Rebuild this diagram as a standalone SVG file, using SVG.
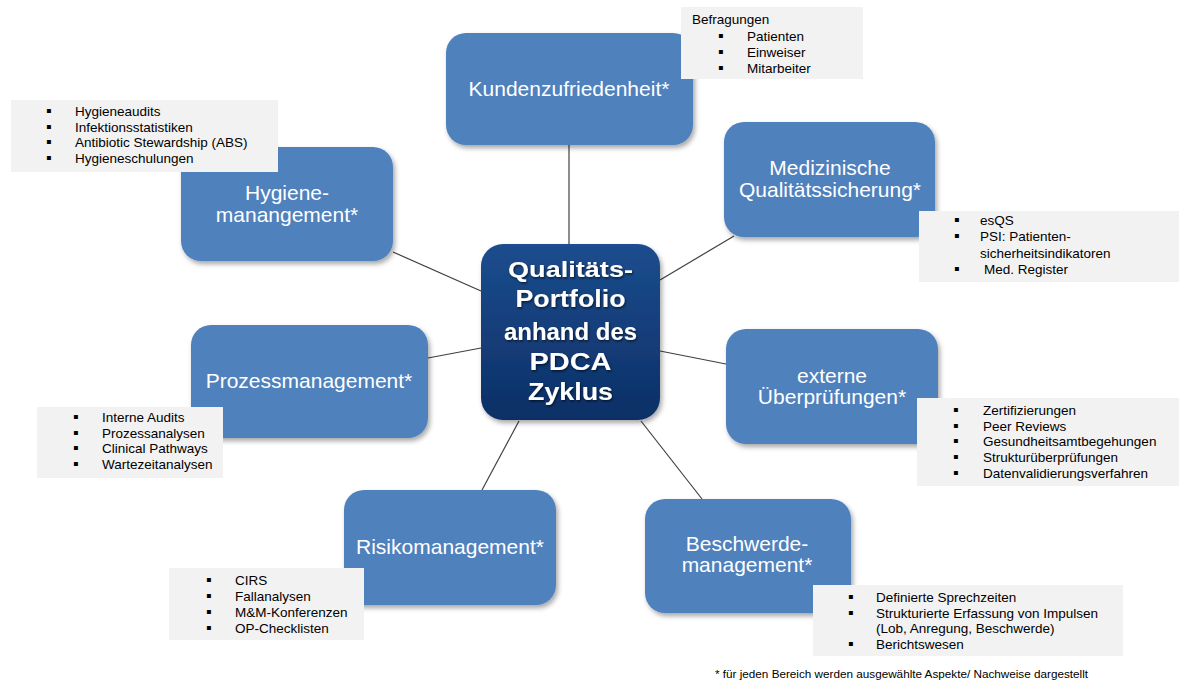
<svg xmlns="http://www.w3.org/2000/svg" width="1179" height="684" viewBox="0 0 1179 684">
<style>
.box{fill:#4f81bd;filter:url(#sh)}
.lbl{font-family:"Liberation Sans",Arial,sans-serif;font-size:21px;fill:#ffffff;text-anchor:middle}
.note{fill:#f2f2f2}
.nt{font-family:"Liberation Sans",Arial,sans-serif;font-size:13.5px;fill:#000000}
.bul{font-family:"Liberation Sans","DejaVu Sans",sans-serif;font-size:16px;fill:#000000}
.ctr{font-family:"Liberation Sans",Arial,sans-serif;font-weight:bold;fill:#ffffff;text-anchor:middle;filter:url(#tsh)}
.con{stroke:#404040;stroke-width:1.2;fill:none}
.foot{font-family:"Liberation Sans",Arial,sans-serif;font-size:11px;fill:#000000}
</style>
<defs>
<linearGradient id="cg" x1="0" y1="0" x2="0" y2="1">
<stop offset="0" stop-color="#1c4d8e"/>
<stop offset="1" stop-color="#0c2f66"/>
</linearGradient>
<filter id="sh" x="-10%" y="-10%" width="125%" height="130%">
<feDropShadow dx="2" dy="3" stdDeviation="2.5" flood-color="#000" flood-opacity="0.35"/>
</filter>
<filter id="tsh" x="-10%" y="-20%" width="120%" height="150%">
<feDropShadow dx="1" dy="1.5" stdDeviation="0.8" flood-color="#000" flood-opacity="0.6"/>
</filter>
</defs>
<rect width="1179" height="684" fill="#ffffff"/>

<g id="connectors">
<line class="con" x1="569" y1="145" x2="569" y2="244"/>
<line class="con" x1="660" y1="280" x2="734" y2="236"/>
<line class="con" x1="660" y1="351" x2="726" y2="364"/>
<line class="con" x1="641" y1="421" x2="702" y2="499"/>
<line class="con" x1="519" y1="421" x2="482" y2="490"/>
<line class="con" x1="481" y1="348" x2="428" y2="358"/>
<line class="con" x1="481" y1="291" x2="393" y2="252"/>
</g>

<g id="kunden">
<rect class="box" x="446" y="33" width="247" height="112" rx="20"/>
<text class="lbl" x="569" y="96">Kundenzufriedenheit*</text>
</g>
<g id="kunden-note">
<rect class="note" x="681" y="7" width="182" height="72"/>
<text class="nt" x="692" y="24">Befragungen</text>
<text class="bul" x="718" y="40.5">▪</text><text class="nt" x="747" y="40.5">Patienten</text>
<text class="bul" x="718" y="56.5">▪</text><text class="nt" x="747" y="56.5">Einweiser</text>
<text class="bul" x="718" y="72.5">▪</text><text class="nt" x="747" y="72.5">Mitarbeiter</text>
</g>

<g id="hygiene">
<rect class="box" x="181" y="147" width="212" height="114" rx="20"/>
<text class="lbl" x="287" y="200">Hygiene-</text>
<text class="lbl" x="287" y="222">manangement*</text>
</g>
<g id="hygiene-note">
<rect class="note" x="11" y="100" width="267" height="72"/>
<text class="bul" x="46" y="116">▪</text><text class="nt" x="75" y="116">Hygieneaudits</text>
<text class="bul" x="46" y="131.7">▪</text><text class="nt" x="75" y="131.7">Infektionsstatistiken</text>
<text class="bul" x="46" y="147.4">▪</text><text class="nt" x="75" y="147.4">Antibiotic Stewardship (ABS)</text>
<text class="bul" x="46" y="163">▪</text><text class="nt" x="75" y="163">Hygieneschulungen</text>
</g>

<g id="center">
<rect x="481" y="244" width="179" height="176" rx="22" fill="url(#cg)" filter="url(#sh)"/>
<text class="ctr" x="570.5" y="277" font-size="22" textLength="125" lengthAdjust="spacingAndGlyphs">Qualitäts-</text>
<text class="ctr" x="570.5" y="307" font-size="23" textLength="110" lengthAdjust="spacingAndGlyphs">Portfolio</text>
<text class="ctr" x="570.5" y="340" font-size="24" textLength="133" lengthAdjust="spacingAndGlyphs">anhand des</text>
<text class="ctr" x="570.5" y="370" font-size="24" textLength="82" lengthAdjust="spacingAndGlyphs">PDCA</text>
<text class="ctr" x="570.5" y="400" font-size="24" textLength="85" lengthAdjust="spacingAndGlyphs">Zyklus</text>
</g>

<g id="medizin">
<rect class="box" x="724" y="122" width="211" height="115" rx="20"/>
<text class="lbl" x="830" y="175">Medizinische</text>
<text class="lbl" x="830" y="197">Qualitätssicherung*</text>
</g>
<g id="medizin-note">
<rect class="note" x="919" y="211" width="260" height="71"/>
<text class="bul" x="954" y="225">▪</text><text class="nt" x="980" y="225">esQS</text>
<text class="bul" x="954" y="241.3">▪</text><text class="nt" x="980" y="241.3">PSI: Patienten-</text>
<text class="nt" x="980" y="257.6">sicherheitsindikatoren</text>
<text class="bul" x="954" y="274">▪</text><text class="nt" x="984" y="274">Med. Register</text>
</g>

<g id="extern">
<rect class="box" x="726" y="329" width="212" height="115" rx="20"/>
<text class="lbl" x="832" y="383">externe</text>
<text class="lbl" x="832" y="404">Überprüfungen*</text>
</g>
<g id="extern-note">
<rect class="note" x="917" y="398" width="262" height="88"/>
<text class="bul" x="953" y="415">▪</text><text class="nt" x="983" y="415">Zertifizierungen</text>
<text class="bul" x="953" y="430.7">▪</text><text class="nt" x="983" y="430.7">Peer Reviews</text>
<text class="bul" x="953" y="446.4">▪</text><text class="nt" x="983" y="446.4">Gesundheitsamtbegehungen</text>
<text class="bul" x="953" y="462">▪</text><text class="nt" x="983" y="462">Strukturüberprüfungen</text>
<text class="bul" x="953" y="477.7">▪</text><text class="nt" x="983" y="477.7">Datenvalidierungsverfahren</text>
</g>

<g id="beschwerde">
<rect class="box" x="645" y="499" width="206" height="114" rx="20"/>
<text class="lbl" x="747" y="551">Beschwerde-</text>
<text class="lbl" x="747" y="572">management*</text>
</g>
<g id="beschwerde-note">
<rect class="note" x="813" y="585" width="310" height="71"/>
<text class="bul" x="848" y="602">▪</text><text class="nt" x="876" y="602">Definierte Sprechzeiten</text>
<text class="bul" x="848" y="617.7">▪</text><text class="nt" x="876" y="617.7">Strukturierte Erfassung von Impulsen</text>
<text class="nt" x="876" y="633.4">(Lob, Anregung, Beschwerde)</text>
<text class="bul" x="848" y="649">▪</text><text class="nt" x="876" y="649">Berichtswesen</text>
</g>

<g id="risiko">
<rect class="box" x="344" y="490" width="212" height="115" rx="20"/>
<text class="lbl" x="450" y="554">Risikomanagement*</text>
</g>
<g id="risiko-note">
<rect class="note" x="169" y="568" width="195" height="72"/>
<text class="bul" x="206" y="585">▪</text><text class="nt" x="235" y="585">CIRS</text>
<text class="bul" x="206" y="601">▪</text><text class="nt" x="235" y="601">Fallanalysen</text>
<text class="bul" x="206" y="617">▪</text><text class="nt" x="235" y="617">M&amp;M-Konferenzen</text>
<text class="bul" x="206" y="633">▪</text><text class="nt" x="235" y="633">OP-Checklisten</text>
</g>

<g id="prozess">
<rect class="box" x="191" y="325" width="237" height="113" rx="20"/>
<text class="lbl" x="309" y="388">Prozessmanagement*</text>
</g>
<g id="prozess-note">
<rect class="note" x="37" y="407" width="186" height="71"/>
<text class="bul" x="73" y="422">▪</text><text class="nt" x="102" y="422">Interne Audits</text>
<text class="bul" x="73" y="437.7">▪</text><text class="nt" x="102" y="437.7">Prozessanalysen</text>
<text class="bul" x="73" y="453.4">▪</text><text class="nt" x="102" y="453.4">Clinical Pathways</text>
<text class="bul" x="73" y="469">▪</text><text class="nt" x="102" y="469">Wartezeitanalysen</text>
</g>

<g id="footnote">
<text class="foot" x="715" y="678" textLength="373" lengthAdjust="spacingAndGlyphs">* für jeden Bereich werden ausgewählte Aspekte/ Nachweise dargestellt</text>
</g>
</svg>
